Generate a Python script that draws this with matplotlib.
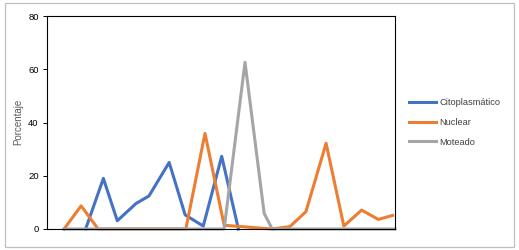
import matplotlib
matplotlib.use('Agg')
from matplotlib import pyplot as plt
from matplotlib.patches import Rectangle

# valores (x en escala 0-100, sin etiquetas en el eje)
cito_x = [11.1, 16.2, 20.2, 25.6, 29.3, 35.1, 39.7, 44.9, 50.2, 55.0]
cito_y = [0, 19, 3.1, 9.6, 12.4, 25, 5.3, 1.1, 27.3, 0]

nuclear_x = [4.9, 9.8, 14.7, 39.9, 45.4, 50.9, 56.9, 62.4, 64.7, 69.8, 74.4, 80.2, 85.3, 90.4, 95.2, 99.3]
nuclear_y = [0, 8.7, 0, 0, 35.9, 1.4, 0.8, 0.2, 0, 0.9, 6.5, 32.2, 1.1, 7.1, 3.6, 5.1]

moteado_x = [4.9, 50.9, 56.9, 62.4, 64.7, 100]
moteado_y = [0, 0, 62.6, 5.9, 0, 0]

y_ticks = [0, 20, 40, 60, 80]

plt.rcParams['font.family'] = ['Liberation Sans', 'DejaVu Sans']


def main():
    fig = plt.figure(figsize=(5.19, 2.5), dpi=100)
    W, H = 519.0, 250.0

    # marco exterior
    fig.patches.append(Rectangle((5 / W, 3 / H), 509 / W, 244 / H, transform=fig.transFigure,
                                 fill=False, edgecolor='#bfbfbf', linewidth=0.9))

    axes = fig.add_axes([47 / W, 21 / H, 348 / W, 213 / H])
    axes.plot(cito_x, cito_y, color='#4472c4', linewidth=2.2, label='Citoplasmático', clip_on=False)
    axes.plot(nuclear_x, nuclear_y, color='#ed7d31', linewidth=2.2, label='Nuclear', clip_on=False)
    axes.plot(moteado_x, moteado_y, color='#a5a5a5', linewidth=2.2, label='Moteado', clip_on=False)

    axes.set_xlim(0, 100)
    axes.set_ylim(0, 80)
    axes.set_yticks(y_ticks)
    axes.tick_params(axis='y', labelsize=6.8, length=3, width=0.7, pad=3, colors='black')
    axes.tick_params(axis='x', bottom=False, labelbottom=False)
    for sp in axes.spines.values():
        sp.set_linewidth(0.8)
        sp.set_color('black')

    fig.text(18.5 / W, 1 - 121.5 / H, 'Porcentaje', rotation=90, ha='center', va='center',
             fontsize=7, color='#595959')

    fig.legend(loc='center left', bbox_to_anchor=(401 / W, 1 - 122.5 / H), frameon=False,
               fontsize=6.7, handlelength=2.9, handletextpad=0.35, labelspacing=1.15,
               labelcolor='#404040')

    fig.savefig('out.png', dpi=100)


if __name__ == '__main__':
    main()
